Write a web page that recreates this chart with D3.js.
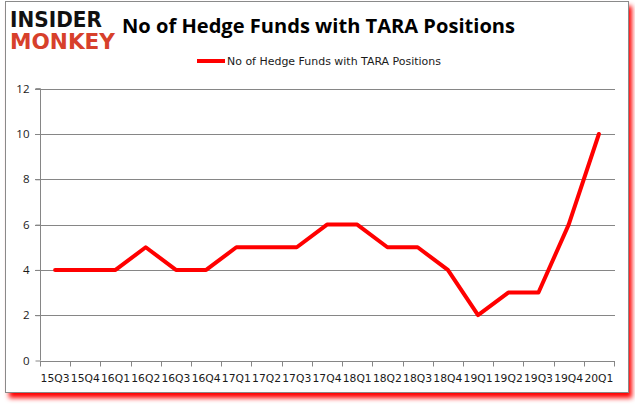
<!DOCTYPE html>
<html><head><meta charset="utf-8">
<script src="https://cdn.jsdelivr.net/npm/d3@7"></script>
<style>body{margin:0;background:#fff}svg{display:block}</style>
</head><body>
<svg id="c" width="635" height="405"></svg>
<script>
const quarters = ["15Q3","15Q4","16Q1","16Q2","16Q3","16Q4","17Q1","17Q2","17Q3","17Q4","18Q1","18Q2","18Q3","18Q4","19Q1","19Q2","19Q3","19Q4","20Q1"];
const funds = [4,4,4,5,4,4,5,5,5,6,6,5,5,4,2,3,3,6,10];
const yTicks = [0,2,4,6,8,10,12];
const seriesName = "No of Hedge Funds with TARA Positions";
const titleText = "No of Hedge Funds with TARA Positions";

const svg = d3.select("#c");
const defs = svg.append("defs");
const f = defs.append("filter").attr("id","blur").attr("x","-10%").attr("y","-10%").attr("width","120%").attr("height","120%");
f.append("feGaussianBlur").attr("stdDeviation",2.5);

// shadow + frame
svg.append("rect").attr("x",9).attr("y",6).attr("width",623).attr("height",392).attr("fill","#ff0000").attr("filter","url(#blur)");
svg.append("rect").attr("x",5.5).attr("y",1.5).attr("width",623).attr("height",391).attr("fill","#fff").attr("stroke","#8a8a8a").attr("stroke-width",1);

const m = {l:40, r:614, t:88.7, b:360.5};
const x = d3.scaleBand().domain(quarters).range([m.l, m.r]);
const y = d3.scaleLinear().domain([0,12]).range([m.b, m.t]);

// gridlines
svg.append("g").selectAll("line").data(yTicks.filter(d=>d>0)).join("line")
  .attr("x1",m.l-5).attr("x2",m.r+1).attr("y1",d=>Math.round(y(d))+0.5).attr("y2",d=>Math.round(y(d))+0.5)
  .attr("stroke","#868686").attr("stroke-width",1);

// y axis
const ya = svg.append("g").attr("transform",`translate(${m.l+0.5},0)`)
  .call(d3.axisLeft(y).tickValues(yTicks).tickSize(5).tickPadding(6));
ya.selectAll("line").attr("stroke","#868686");
ya.select(".domain").attr("stroke","#868686").attr("d",`M-5,${y(12)}H0V${y(0)}`);
ya.selectAll("text").attr("font-family","'Open Sans','Liberation Sans',sans-serif").attr("font-size",11.5).attr("fill","#1a1a1a");

// x axis
const xa = svg.append("g").attr("transform",`translate(0,${Math.round(y(0))+0.5})`);
xa.append("line").attr("x1",m.l).attr("x2",m.r+1).attr("stroke","#868686");
const bounds = quarters.map(q=>x(q)).concat([x(quarters[quarters.length-1])+x.bandwidth()]);
xa.selectAll("line.t").data(bounds).join("line").attr("class","t")
  .attr("x1",d=>Math.round(d)+0.5).attr("x2",d=>Math.round(d)+0.5).attr("y1",0).attr("y2",5).attr("stroke","#868686");
xa.selectAll("text").data(quarters).join("text")
  .attr("x",d=>x(d)+x.bandwidth()/2).attr("y",20).attr("text-anchor","middle")
  .attr("font-family","'DejaVu Sans',sans-serif").attr("font-size",10.5).attr("fill","#1a1a1a")
  .attr("textLength",29).attr("lengthAdjust","spacingAndGlyphs").text(d=>d);

// line
svg.append("path").datum(funds.map((v,i)=>[quarters[i],v]))
  .attr("fill","none").attr("stroke","#ff0000").attr("stroke-width",4).attr("stroke-linejoin","round").attr("stroke-linecap","round")
  .attr("d",d3.line().x(d=>x(d[0])+x.bandwidth()/2).y(d=>y(d[1])));

// legend
svg.append("line").attr("x1",197).attr("x2",225).attr("y1",61).attr("y2",61).attr("stroke","#ff0000").attr("stroke-width",4);
svg.append("text").attr("x",227).attr("y",65).attr("font-family","'DejaVu Sans',sans-serif").attr("font-size",10.5)
  .attr("fill","#1a1a1a").attr("textLength",214).attr("lengthAdjust","spacingAndGlyphs").text(seriesName);

// title
svg.append("text").attr("x",122).attr("y",33).attr("font-family","'Open Sans','Liberation Sans',sans-serif").attr("font-weight","bold")
  .attr("font-size",20).attr("fill","#000").attr("textLength",393).attr("lengthAdjust","spacingAndGlyphs").text(titleText);

// logo
svg.append("text").attr("x",10).attr("y",27).attr("font-family","'DejaVu Sans',sans-serif").attr("font-weight","bold")
  .attr("font-size",21).attr("fill","#111").attr("textLength",92).attr("lengthAdjust","spacingAndGlyphs").text("INSIDER");
svg.append("text").attr("x",10).attr("y",49).attr("font-family","'DejaVu Sans',sans-serif").attr("font-weight","bold")
  .attr("font-size",21).attr("fill","#d7402b").attr("textLength",105).attr("lengthAdjust","spacingAndGlyphs").text("MONKEY");
</script>
</body></html>
